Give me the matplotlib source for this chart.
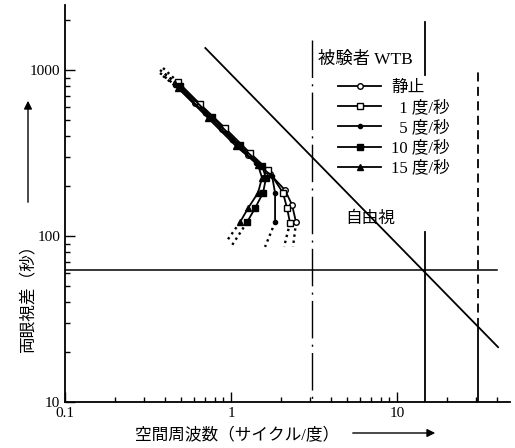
import matplotlib
matplotlib.use('Agg')
import matplotlib.pyplot as plt
from matplotlib.lines import Line2D

plt.rcParams['font.family'] = ['Liberation Serif', 'Noto Sans CJK JP']

# ---------------- data ----------------
legend_labels = ['静止', '  1 度/秒', '  5 度/秒', '10 度/秒', '15 度/秒']

# spatial frequency (cycle/deg) vs binocular disparity (sec) -- measured part
sf_still = [0.466, 0.607, 0.883, 1.266, 1.718, 2.115, 2.331, 2.464]
disp_still = [835, 633, 441, 308, 236, 189, 154, 121]
sf_v1 = [0.479, 0.650, 0.920, 1.302, 1.671, 2.057, 2.175, 2.267]
disp_v1 = [847, 624, 447, 316, 250, 182, 147, 120]
sf_v5 = [0.460, 0.697, 1.014, 1.414, 1.766, 1.842, 1.842]
disp_v5 = [812, 551, 379, 275, 230, 182, 121]
sf_v10 = [0.493, 0.768, 1.133, 1.537, 1.625, 1.559, 1.395, 1.248]
disp_v10 = [801, 521, 353, 264, 224, 182, 147, 121]
sf_v15 = [0.479, 0.727, 1.072, 1.454, 1.537, 1.454, 1.266, 1.133]
disp_v15 = [779, 514, 348, 268, 224, 182, 147, 121]

# dotted extrapolations at both ends of each curve
ext_top_sf = [0.3735, 0.3895, 0.3735, 0.4004, 0.3895]
ext_top_disp = [1000, 1028, 959, 946, 920]
ext_bot_sf = [2.363, 2.086, 1.603, 1.014, 0.933]
ext_bot_disp = [86, 86, 86, 88, 92]

# reference lines
free_view_sf = [0.70, 40.6]
free_view_disp = [1357, 21.4]
hline_disp = 62
hline_sf_end = 40.0
vline_dashdot_sf = 3.07
vline_dashdot_range = [1517, 10]
vline_solid_sf = 14.75
vline_solid_low = [10, 106]
vline_solid_high = [933, 1945]
vline_dashed_sf = 30.8
vline_dashed_range = [28.4, 1000]
vline_dashed_solid = [10, 28.4]

x_ticks = [0.1, 1, 10]
x_ticklabels = ['0.1', '1', '10']
y_ticks = [10, 100, 1000]
y_ticklabels = ['10', '100', '1000']

# ---------------- figure ----------------
W, H = 515, 448
fig = plt.figure(figsize=(W / 100, H / 100), dpi=100)
ax = fig.add_axes([65 / W, 46 / H, 445 / W, 397 / H])
ax.set_xscale('log')
ax.set_yscale('log')
ax.set_xlim(0.1, 47.9)
ax.set_ylim(10, 2464)

for s in ['top', 'right']:
    ax.spines[s].set_visible(False)
for s in ['left', 'bottom']:
    ax.spines[s].set_linewidth(1.3)

ax.set_xticks(x_ticks, x_ticklabels)
ax.set_yticks(y_ticks, y_ticklabels)
ax.tick_params(which='both', direction='in', width=1.0, labelsize=11)
ax.tick_params(which='major', length=7)
ax.tick_params(which='minor', length=3.8)

# reference lines
ax.plot(free_view_sf, free_view_disp, color='k', lw=1.3)
ax.plot([0.1, hline_sf_end], [hline_disp, hline_disp], color='k', lw=1.1)
ax.plot([vline_dashdot_sf] * 2, vline_dashdot_range, color='k', lw=1.0,
        linestyle=(0, (27, 4.5, 1.5, 4.5)))
ax.plot([vline_solid_sf] * 2, vline_solid_low, color='k', lw=1.3)
ax.plot([vline_solid_sf] * 2, vline_solid_high, color='k', lw=1.3)
ax.plot([vline_dashed_sf] * 2, vline_dashed_range, color='k', lw=1.3,
        linestyle=(0, (5, 3)))
ax.plot([vline_dashed_sf] * 2, vline_dashed_solid, color='k', lw=1.3)

# data curves
curves = [
    (sf_still, disp_still, dict(marker='o', mfc='white', ms=4)),
    (sf_v1, disp_v1, dict(marker='s', mfc='white', ms=4)),
    (sf_v5, disp_v5, dict(marker='o', mfc='k', ms=3)),
    (sf_v10, disp_v10, dict(marker='s', mfc='k', ms=4)),
    (sf_v15, disp_v15, dict(marker='^', mfc='k', ms=5)),
]
handles = []
for i, (xs, ys, mk) in enumerate(curves):
    ax.plot([ext_top_sf[i], xs[0]], [ext_top_disp[i], ys[0]], color='k',
            lw=1.7, linestyle=(0, (1, 1.6)))
    ax.plot([xs[-1], ext_bot_sf[i]], [ys[-1], ext_bot_disp[i]], color='k',
            lw=1.7, linestyle=(0, (1, 1.6)))
    ax.plot(xs, ys, color='k', lw=1.3, mec='k', mew=1.0, **mk)
    handles.append(Line2D([], [], color='k', lw=1.3, mec='k', mew=1.0, **mk))

leg = ax.legend(handles, legend_labels, loc='upper left',
                bbox_to_anchor=(338 / W, 1 - 80 / H), bbox_transform=fig.transFigure,
                frameon=False, fontsize=12, handlelength=2.6, handletextpad=0.6,
                labelspacing=0.25, borderpad=0, borderaxespad=0)

ax.text(3.35, 1150, '被験者 WTB', ha='left', va='center', fontsize=12.5)
ax.text(6.9, 127, '自由視', ha='center', va='center', fontsize=12)

# axis labels with arrows
fig.text(28 / W, 1 - 295 / H, '両眼視差（秒）', rotation=90, ha='center',
         va='center', fontsize=12)
ax.annotate('', xy=(28 / W, 1 - 98 / H), xytext=(28 / W, 1 - 205 / H),
            xycoords='figure fraction', textcoords='figure fraction',
            arrowprops=dict(arrowstyle='-|>', color='k', lw=1.0, mutation_scale=12))
fig.text(237 / W, 1 - 436 / H, '空間周波数（サイクル/度）', ha='center',
         va='center', fontsize=12)
ax.annotate('', xy=(438 / W, 1 - 433 / H), xytext=(350 / W, 1 - 433 / H),
            xycoords='figure fraction', textcoords='figure fraction',
            arrowprops=dict(arrowstyle='-|>', color='k', lw=1.0, mutation_scale=12))

fig.savefig('out.png', dpi=100)
